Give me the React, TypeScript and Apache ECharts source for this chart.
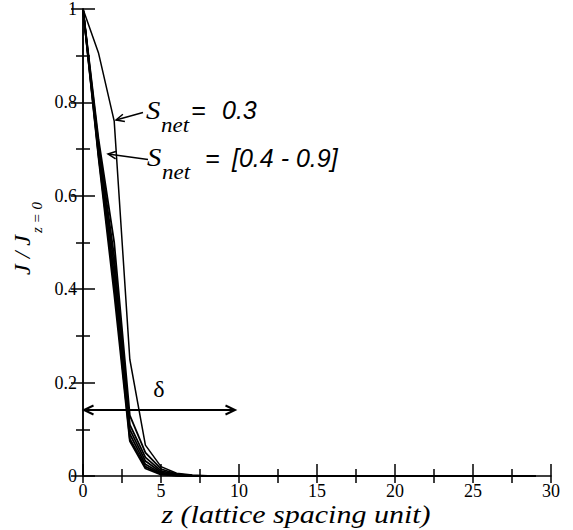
import React, { useEffect, useRef } from "react";
import * as echarts from "echarts";

const zValues = [0, 1, 2, 3, 4, 5, 6, 7, 8, 9, 10, 11, 12, 13, 14, 15, 16, 17, 18, 19, 20, 21, 22, 23, 24, 25, 26, 27, 28, 29];
const sNet03 = [1, 0.905, 0.76, 0.25, 0.066, 0.02, 0.006, 0.002, 0.0005, 0, 0, 0, 0, 0, 0, 0, 0, 0, 0, 0, 0, 0, 0, 0, 0, 0, 0, 0, 0, 0];
const sNet04 = [1, 0.72, 0.5, 0.13, 0.05, 0.015, 0.004, 0.001, 0, 0, 0, 0, 0, 0, 0, 0, 0, 0, 0, 0, 0, 0, 0, 0, 0, 0, 0, 0, 0, 0];
const sNet05 = [1, 0.71, 0.47, 0.11, 0.04, 0.011, 0.003, 0.0008, 0, 0, 0, 0, 0, 0, 0, 0, 0, 0, 0, 0, 0, 0, 0, 0, 0, 0, 0, 0, 0, 0];
const sNet06 = [1, 0.7, 0.45, 0.1, 0.032, 0.008, 0.002, 0.0005, 0, 0, 0, 0, 0, 0, 0, 0, 0, 0, 0, 0, 0, 0, 0, 0, 0, 0, 0, 0, 0, 0];
const sNet07 = [1, 0.69, 0.43, 0.09, 0.025, 0.006, 0.0015, 0.0003, 0, 0, 0, 0, 0, 0, 0, 0, 0, 0, 0, 0, 0, 0, 0, 0, 0, 0, 0, 0, 0, 0];
const sNet08 = [1, 0.685, 0.41, 0.08, 0.02, 0.004, 0.001, 0, 0, 0, 0, 0, 0, 0, 0, 0, 0, 0, 0, 0, 0, 0, 0, 0, 0, 0, 0, 0, 0, 0];
const sNet09 = [1, 0.68, 0.39, 0.075, 0.016, 0.003, 0.0008, 0, 0, 0, 0, 0, 0, 0, 0, 0, 0, 0, 0, 0, 0, 0, 0, 0, 0, 0, 0, 0, 0, 0];
const allSeries = [sNet03, sNet04, sNet05, sNet06, sNet07, sNet08, sNet09];

const SERIF = "Liberation Serif, serif";
const SANS = "Liberation Sans, sans-serif";

export default function App() {
  const ref = useRef<HTMLDivElement>(null);
  useEffect(() => {
    document.body.style.margin = "0";
    const chart = echarts.init(ref.current!, null, { renderer: "svg" });
    const black = "#000";
    const stroke = { stroke: black, lineWidth: 1.5 };
    const tickStyle = { color: black, width: 1.5 };
    const option: any = {
      animation: false,
      grid: { left: 83, right: 22, top: 6, bottom: 54, containLabel: false },
      xAxis: [
        {
          type: "value", min: 0, max: 30, interval: 5, position: "bottom",
          axisLine: { show: false },
          axisTick: { show: true, inside: true, length: 12, lineStyle: tickStyle },
          minorTick: { show: true, splitNumber: 2, length: 7, lineStyle: tickStyle },
          splitLine: { show: false },
          axisLabel: { color: black, fontFamily: SERIF, fontSize: 18, margin: 6 },
        },
        {
          type: "value", min: 0, max: 30, interval: 5, position: "top",
          axisLine: { show: true, lineStyle: tickStyle },
          axisTick: { show: true, inside: true, length: 7, lineStyle: tickStyle },
          minorTick: { show: true, splitNumber: 2, length: 7, lineStyle: tickStyle },
          splitLine: { show: false },
          axisLabel: { show: false },
        },
      ],
      yAxis: [
        {
          type: "value", min: 0, max: 1, interval: 0.2, position: "left",
          axisLine: { show: true, lineStyle: tickStyle },
          axisTick: { show: true, inside: true, length: 12, lineStyle: tickStyle },
          minorTick: { show: true, splitNumber: 2, length: 7, lineStyle: tickStyle },
          splitLine: { show: false },
          axisLabel: { color: black, fontFamily: SERIF, fontSize: 18, margin: 6 },
        },
        {
          type: "value", min: 0, max: 1, interval: 0.2, position: "right",
          axisLine: { show: true, lineStyle: tickStyle },
          axisTick: { show: true, inside: true, length: 12, lineStyle: tickStyle },
          minorTick: { show: true, splitNumber: 2, length: 7, lineStyle: tickStyle },
          splitLine: { show: false },
          axisLabel: { show: false },
        },
      ],
      series: allSeries.map((vals, k) => ({
        type: "line",
        data: zValues.map((z, i) => [z, vals[i]]),
        symbol: "none",
        clip: false,
        silent: true,
        lineStyle: { color: black, width: k === 0 ? 1.5 : 1.8 },
      })),
      graphic: [
        // S_net = 0.3
        { type: "text", x: 146, y: 110, scaleX: 1.1, style: { text: "S", font: `italic 26px ${SERIF}`, fill: black, verticalAlign: "middle" } },
        { type: "text", x: 161, y: 126, scaleX: 1.15, style: { text: "net", font: `italic 20px ${SERIF}`, fill: black, verticalAlign: "middle" } },
        { type: "text", x: 191, y: 110, style: { text: "=", font: `italic 25px ${SANS}`, fill: black, verticalAlign: "middle" } },
        { type: "text", x: 222, y: 110, style: { text: "0.3", font: `italic 25px ${SANS}`, fill: black, verticalAlign: "middle" } },
        { type: "line", shape: { x1: 143, y1: 112.5, x2: 116, y2: 120 }, style: stroke },
        { type: "polyline", shape: { points: [[124.9, 121.5], [116, 120], [122.9, 114.2]] }, style: { ...stroke, fill: "none" } },
        // S_net = [0.4 - 0.9]
        { type: "text", x: 147, y: 157, scaleX: 1.1, style: { text: "S", font: `italic 26px ${SERIF}`, fill: black, verticalAlign: "middle" } },
        { type: "text", x: 162, y: 173, scaleX: 1.15, style: { text: "net", font: `italic 20px ${SERIF}`, fill: black, verticalAlign: "middle" } },
        { type: "text", x: 205, y: 158, style: { text: "=", font: `italic 25px ${SANS}`, fill: black, verticalAlign: "middle" } },
        { type: "text", x: 232, y: 158, style: { text: "[0.4 - 0.9]", font: `italic 25px ${SANS}`, fill: black, verticalAlign: "middle" } },
        { type: "line", shape: { x1: 148, y1: 159.5, x2: 108, y2: 154 }, style: stroke },
        { type: "polyline", shape: { points: [[115.6, 158.9], [108, 154], [116.6, 151.3]] }, style: { ...stroke, fill: "none" } },
        // delta
        { type: "text", x: 159, y: 389, style: { text: "δ", font: `24px ${SERIF}`, fill: black, align: "center", verticalAlign: "middle" } },
        { type: "line", shape: { x1: 84, y1: 410, x2: 235, y2: 410 }, style: { stroke: black, lineWidth: 2 } },
        { type: "polyline", shape: { points: [[93.5, 405.5], [84, 410], [93.5, 414.5]] }, style: { stroke: black, lineWidth: 2, fill: "none" } },
        { type: "polyline", shape: { points: [[225.5, 405.5], [235, 410], [225.5, 414.5]] }, style: { stroke: black, lineWidth: 2, fill: "none" } },
        // x axis title
        { type: "text", x: 296, y: 514, scaleX: 1.2, style: { text: "z (lattice spacing unit)", font: `italic 25px ${SERIF}`, fill: black, align: "center", verticalAlign: "middle" } },
        // y axis title
        {
          type: "group", x: 22, y: 254, rotation: Math.PI / 2,
          children: [
            { type: "text", x: -21, y: 0, style: { text: "J / J", font: `italic 24px ${SERIF}`, fill: black, verticalAlign: "middle" } },
            { type: "text", x: 21, y: 15, style: { text: "z = 0", font: `italic 15px ${SERIF}`, fill: black, verticalAlign: "middle" } },
          ],
        },
      ],
    };
    chart.setOption(option);
    return () => chart.dispose();
  }, []);
  return <div ref={ref} style={{ width: 573, height: 530 }} />;
}
